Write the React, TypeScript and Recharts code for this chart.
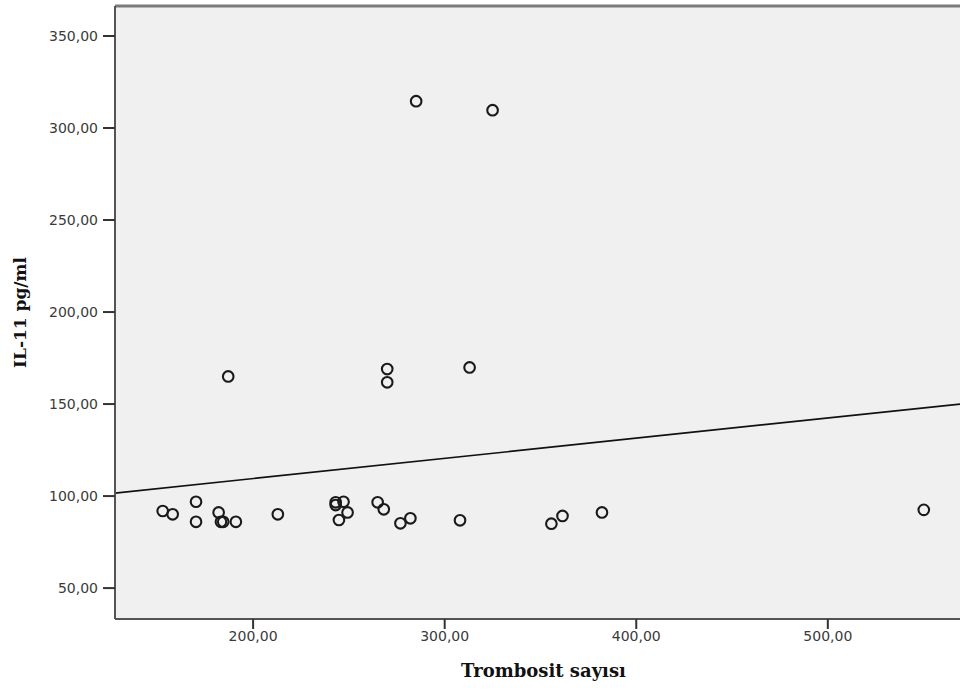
import React from "react";
import {
  ScatterChart, Scatter, XAxis, YAxis, CartesianGrid, ReferenceLine,
} from "recharts";

// Trombosit sayısı (x) vs IL-11 pg/ml (y)
const trombosit = [
  152.8, 158.0, 170.2, 170.2, 182.0, 183.2, 184.4, 191.0, 212.9, 243.1,
  243.1, 247.2, 249.3, 244.8, 265.0, 268.2, 276.9, 282.1, 308.0, 355.7,
  361.5, 382.1, 550.1, 285.1, 325.0, 187.0, 270.0, 270.0, 313.0,
];
const il11 = [
  91.9, 90.1, 96.9, 86.0, 91.1, 86.0, 86.0, 86.0, 90.1, 96.6,
  95.1, 96.9, 91.1, 87.0, 96.6, 92.8, 85.2, 87.9, 86.8, 85.0,
  89.2, 91.1, 92.5, 314.6, 309.7, 165.0, 169.0, 161.8, 169.9,
];

// fit line end points (linear regression line drawn across the frame)
const fitX = [127.9, 569];
const fitY = [101.6, 150.0];

const xTicks = [200, 300, 400, 500];
const yTicks = [50, 100, 150, 200, 250, 300, 350];
const xDomain = [127.9, 569];
const yDomain = [33.2, 366.3];

const points = trombosit.map((t, i) => ({ x: t, y: il11[i] }));
const fmt = (v: number) => v.toFixed(2).replace(".", ",");

const Ring = (props: any) => (
  <circle cx={props.cx} cy={props.cy} r={5.3} fill="none" stroke="#1a1a1a" strokeWidth={2.1} />
);

export default function App() {
  return (
    <div style={{ position: "absolute", left: 0, top: 0, background: "#fff" }}>
      <ScatterChart width={960} height={691} margin={{ top: 6, right: 0, left: 0, bottom: 0 }}>
        <CartesianGrid horizontal={false} vertical={false} fill="#f0f0f0" />
        <XAxis
          type="number" dataKey="x" domain={xDomain} ticks={xTicks}
          allowDataOverflow height={72}
          tickFormatter={fmt}
          tick={{ fill: "#3a3a3a", fontSize: 14, fontFamily: "DejaVu Sans" }}
          axisLine={{ stroke: "#555", strokeWidth: 2 }}
          tickLine={{ stroke: "#333", strokeWidth: 2 }} tickSize={10}
          label={{
            value: "Trombosit sayısı", position: "insideBottom", offset: 14, dx: 6,
            style: { fontFamily: "DejaVu Serif", fontWeight: 700, fontSize: 18, fill: "#111" },
          }}
        />
        <YAxis
          type="number" dataKey="y" domain={yDomain} ticks={yTicks}
          allowDataOverflow width={115}
          tickFormatter={fmt}
          tick={{ fill: "#3a3a3a", fontSize: 14, fontFamily: "DejaVu Sans" }}
          axisLine={{ stroke: "#555", strokeWidth: 2 }}
          tickLine={{ stroke: "#333", strokeWidth: 2 }} tickSize={12} tickMargin={5}
          label={{
            value: "IL-11 pg/ml", angle: -90, position: "insideLeft", offset: 20,
            style: { textAnchor: "middle", fontFamily: "DejaVu Serif", fontWeight: 700, fontSize: 17, fill: "#111" },
          }}
        />
        <ReferenceLine y={yDomain[1]} stroke="#7a7a7a" strokeWidth={3} />
        <ReferenceLine
          segment={[{ x: fitX[0], y: fitY[0] }, { x: fitX[1], y: fitY[1] }]}
          stroke="#111" strokeWidth={1.7}
        />
        <Scatter data={points} shape={Ring} isAnimationActive={false} />
      </ScatterChart>
    </div>
  );
}
